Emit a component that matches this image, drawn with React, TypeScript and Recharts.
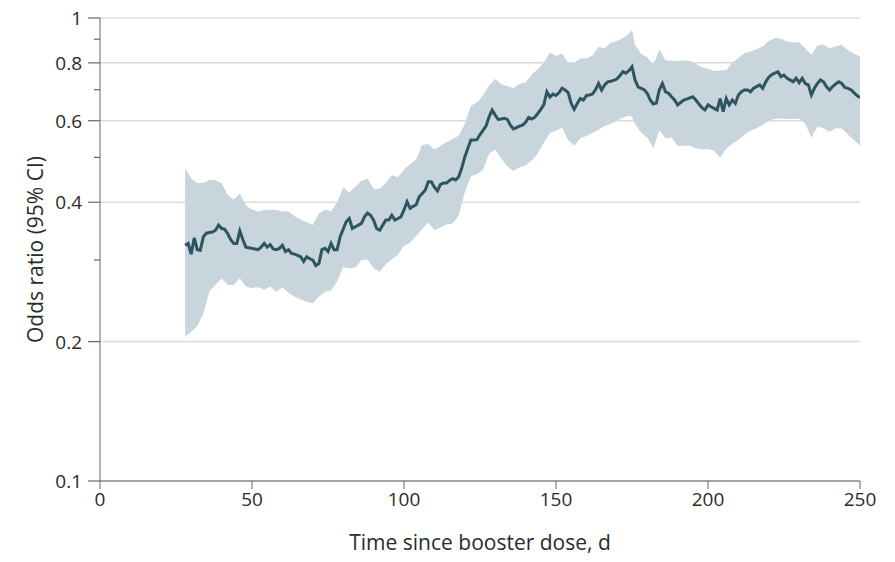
import React from "react";
import {
  ComposedChart,
  Area,
  Line,
  XAxis,
  YAxis,
  CartesianGrid,
  Label,
} from "recharts";

// Odds ratio (daily), starting at day 28 after booster dose
const LINE_START_DAY = 28;
const oddsRatio = [
  0.323, 0.326, 0.309, 0.335, 0.316, 0.315, 0.337, 0.343, 0.344, 0.345, // 28-37
  0.348, 0.357, 0.351, 0.350, 0.342, 0.332, 0.326, 0.326, 0.347, 0.332, // 38-47
  0.320, 0.319, 0.318, 0.317, 0.316, 0.320, 0.326, 0.320, 0.324, 0.317, // 48-57
  0.316, 0.318, 0.323, 0.313, 0.316, 0.310, 0.309, 0.307, 0.305, 0.298, // 58-67
  0.305, 0.302, 0.300, 0.292, 0.295, 0.316, 0.318, 0.313, 0.326, 0.316, // 68-77
  0.316, 0.337, 0.350, 0.363, 0.369, 0.351, 0.354, 0.357, 0.360, 0.372, // 78-87
  0.379, 0.375, 0.366, 0.351, 0.348, 0.357, 0.366, 0.366, 0.375, 0.366, // 88-97
  0.369, 0.372, 0.385, 0.401, 0.388, 0.392, 0.395, 0.411, 0.418, 0.425, // 98-107
  0.443, 0.443, 0.431, 0.423, 0.437, 0.440, 0.440, 0.446, 0.450, 0.447, // 108-117
  0.454, 0.474, 0.501, 0.523, 0.545, 0.545, 0.546, 0.560, 0.572, 0.585, // 118-127
  0.612, 0.633, 0.617, 0.604, 0.605, 0.607, 0.604, 0.587, 0.576, 0.580, // 128-137
  0.584, 0.587, 0.595, 0.610, 0.605, 0.610, 0.622, 0.635, 0.650, 0.693, // 138-147
  0.675, 0.685, 0.680, 0.690, 0.705, 0.699, 0.690, 0.654, 0.635, 0.654, // 148-157
  0.670, 0.665, 0.680, 0.682, 0.685, 0.700, 0.722, 0.699, 0.717, 0.728, // 158-167
  0.730, 0.733, 0.738, 0.750, 0.766, 0.760, 0.770, 0.785, 0.735, 0.710, // 168-177
  0.705, 0.700, 0.688, 0.665, 0.652, 0.655, 0.700, 0.722, 0.693, 0.688, // 178-187
  0.676, 0.665, 0.649, 0.657, 0.665, 0.668, 0.672, 0.676, 0.665, 0.652, // 188-197
  0.640, 0.633, 0.649, 0.643, 0.638, 0.633, 0.670, 0.628, 0.670, 0.649, // 198-207
  0.665, 0.654, 0.682, 0.693, 0.699, 0.699, 0.693, 0.705, 0.711, 0.717, // 208-217
  0.705, 0.728, 0.745, 0.755, 0.760, 0.765, 0.747, 0.753, 0.741, 0.735, // 218-227
  0.728, 0.741, 0.725, 0.741, 0.722, 0.717, 0.682, 0.705, 0.722, 0.735, // 228-237
  0.728, 0.710, 0.699, 0.711, 0.720, 0.728, 0.722, 0.708, 0.705, 0.700, // 238-247
  0.690, 0.680, 0.673, // 248-250
];

// 95% CI band
const bandDays = [
  28, 30, 32, 34, 36, 38, 40, 42, 44, 46,
  48, 50, 52, 54, 56, 58, 60, 62, 64, 66,
  68, 70, 72, 74, 76, 78, 80, 82, 84, 86,
  88, 90, 92, 94, 96, 98, 100, 102, 104, 106,
  108, 110, 112, 114, 116, 118, 120, 122, 124, 126,
  128, 130, 132, 134, 136, 138, 140, 142, 144, 146,
  148, 150, 152, 154, 156, 158, 160, 162, 164, 166,
  168, 170, 172, 174, 175, 176, 178, 180, 182, 184,
  186, 188, 190, 192, 194, 196, 198, 200, 202, 204,
  206, 208, 210, 212, 214, 216, 218, 220, 222, 224,
  226, 228, 230, 232, 234, 236, 238, 240, 242, 244,
  246, 248, 250,
];
const ciUpper = [
  0.474, 0.450, 0.440, 0.440, 0.447, 0.446, 0.440, 0.415, 0.405, 0.418,
  0.393, 0.386, 0.382, 0.385, 0.386, 0.385, 0.382, 0.382, 0.373, 0.367,
  0.362, 0.357, 0.378, 0.386, 0.382, 0.400, 0.431, 0.420, 0.432, 0.445,
  0.450, 0.428, 0.428, 0.441, 0.458, 0.453, 0.471, 0.483, 0.495, 0.532,
  0.534, 0.520, 0.530, 0.540, 0.548, 0.557, 0.590, 0.646, 0.657, 0.680,
  0.715, 0.738, 0.719, 0.712, 0.705, 0.720, 0.726, 0.755, 0.775, 0.800,
  0.842, 0.828, 0.838, 0.800, 0.800, 0.818, 0.818, 0.830, 0.866, 0.860,
  0.884, 0.892, 0.905, 0.926, 0.942, 0.875, 0.837, 0.823, 0.791, 0.855,
  0.810, 0.808, 0.806, 0.809, 0.808, 0.797, 0.783, 0.777, 0.768, 0.770,
  0.772, 0.800, 0.820, 0.839, 0.847, 0.857, 0.868, 0.892, 0.905, 0.902,
  0.890, 0.886, 0.885, 0.860, 0.833, 0.872, 0.876, 0.860, 0.868, 0.875,
  0.852, 0.838, 0.826,
];
const ciLower = [
  0.205, 0.210, 0.216, 0.230, 0.257, 0.265, 0.274, 0.265, 0.265, 0.274,
  0.263, 0.261, 0.262, 0.259, 0.263, 0.256, 0.262, 0.255, 0.250, 0.247,
  0.244, 0.242, 0.250, 0.256, 0.258, 0.270, 0.290, 0.288, 0.289, 0.300,
  0.301, 0.288, 0.283, 0.294, 0.301, 0.308, 0.322, 0.327, 0.338, 0.350,
  0.362, 0.348, 0.353, 0.358, 0.360, 0.375, 0.420, 0.455, 0.460, 0.470,
  0.510, 0.520, 0.497, 0.478, 0.467, 0.476, 0.480, 0.492, 0.510, 0.538,
  0.565, 0.570, 0.580, 0.545, 0.530, 0.550, 0.556, 0.565, 0.573, 0.585,
  0.590, 0.600, 0.610, 0.615, 0.612, 0.590, 0.566, 0.552, 0.523, 0.572,
  0.550, 0.552, 0.530, 0.530, 0.530, 0.523, 0.520, 0.521, 0.517, 0.500,
  0.522, 0.535, 0.545, 0.560, 0.571, 0.578, 0.588, 0.600, 0.605, 0.607,
  0.605, 0.605, 0.607, 0.590, 0.552, 0.582, 0.578, 0.568, 0.578, 0.577,
  0.560, 0.545, 0.530,
];

const xTicks = [0, 50, 100, 150, 200, 250];
const yMajorTicks = [0.1, 0.2, 0.4, 0.6, 0.8, 1];
const yAllTicks = [0.1, 0.2, 0.3, 0.4, 0.5, 0.6, 0.7, 0.8, 0.9, 1];
const gridValues = [0.2, 0.4, 0.6, 0.8, 1];

const lineData = oddsRatio.map((v, i) => ({ day: LINE_START_DAY + i, or: v }));
const bandData = bandDays.map((d, i) => ({ day: d, ci: [ciLower[i], ciUpper[i]] }));

const FONT = "'Open Sans', 'DejaVu Sans', sans-serif";
const TEXT = "#2b2b2b";
const AXIS = "#666666";

const YTick = (props: any) => {
  const { x, y, payload } = props;
  const v = payload.value;
  const major = yMajorTicks.includes(v);
  const len = major ? 12 : 6;
  return (
    <g>
      <line x1={x - len} y1={y} x2={x} y2={y} stroke={AXIS} strokeWidth={1.2} />
      {major && (
        <text
          x={x - 18}
          y={y}
          textAnchor="end"
          dominantBaseline="central"
          fontSize={19}
          fontFamily={FONT}
          fill={TEXT}
        >
          {String(v)}
        </text>
      )}
    </g>
  );
};

export default function App() {
  return (
    <div style={{ margin: "-8px 0 0 -8px", width: 895, height: 562 }}>
      <ComposedChart
        width={895}
        height={562}
        margin={{ top: 18, right: 35, bottom: 0, left: 8 }}
      >
        <CartesianGrid
          vertical={false}
          yAxisId="grid"
          stroke="#dcdcdc"
          strokeWidth={1.5}
        />
        <XAxis
          dataKey="day"
          type="number"
          domain={[0, 250]}
          ticks={xTicks}
          allowDataOverflow
          height={81}
          tickSize={8}
          tickMargin={4}
          stroke={AXIS}
          tick={{ fontSize: 19, fontFamily: FONT, fill: TEXT }}
        >
          <Label
            content={({ viewBox }: any) => (
              <text
                x={viewBox.x + viewBox.width / 2}
                y={viewBox.y + 61}
                textAnchor="middle"
                dominantBaseline="central"
                fontSize={21}
                fontFamily={FONT}
                fill={TEXT}
              >
                Time since booster dose, d
              </text>
            )}
          />
        </XAxis>
        <YAxis
          yAxisId="grid"
          type="number"
          scale="log"
          domain={[0.1, 1]}
          ticks={gridValues}
          allowDataOverflow
          hide
        />
        <YAxis
          type="number"
          scale="log"
          domain={[0.1, 1]}
          ticks={yAllTicks}
          allowDataOverflow
          width={92}
          tickSize={0}
          tickMargin={0}
          tickLine={false}
          stroke={AXIS}
          tick={<YTick />}
          interval={0}
        >
          <Label
            content={({ viewBox }: any) => {
              const cx = viewBox.x + 27;
              const cy = viewBox.y + viewBox.height / 2;
              return (
                <text
                  x={cx}
                  y={cy}
                  transform={`rotate(-90 ${cx} ${cy})`}
                  textAnchor="middle"
                  dominantBaseline="central"
                  fontSize={21}
                  fontFamily={FONT}
                  fill={TEXT}
                >
                  Odds ratio (95% CI)
                </text>
              );
            }}
          />
        </YAxis>
        <Area
          data={bandData}
          dataKey="ci"
          type="linear"
          fill="#c8d5dc"
          fillOpacity={1}
          stroke="none"
          isAnimationActive={false}
          dot={false}
          activeDot={false}
        />
        <Line
          data={lineData}
          dataKey="or"
          type="linear"
          stroke="#2c5461"
          strokeWidth={3}
          dot={false}
          activeDot={false}
          isAnimationActive={false}
        />
      </ComposedChart>
    </div>
  );
}
